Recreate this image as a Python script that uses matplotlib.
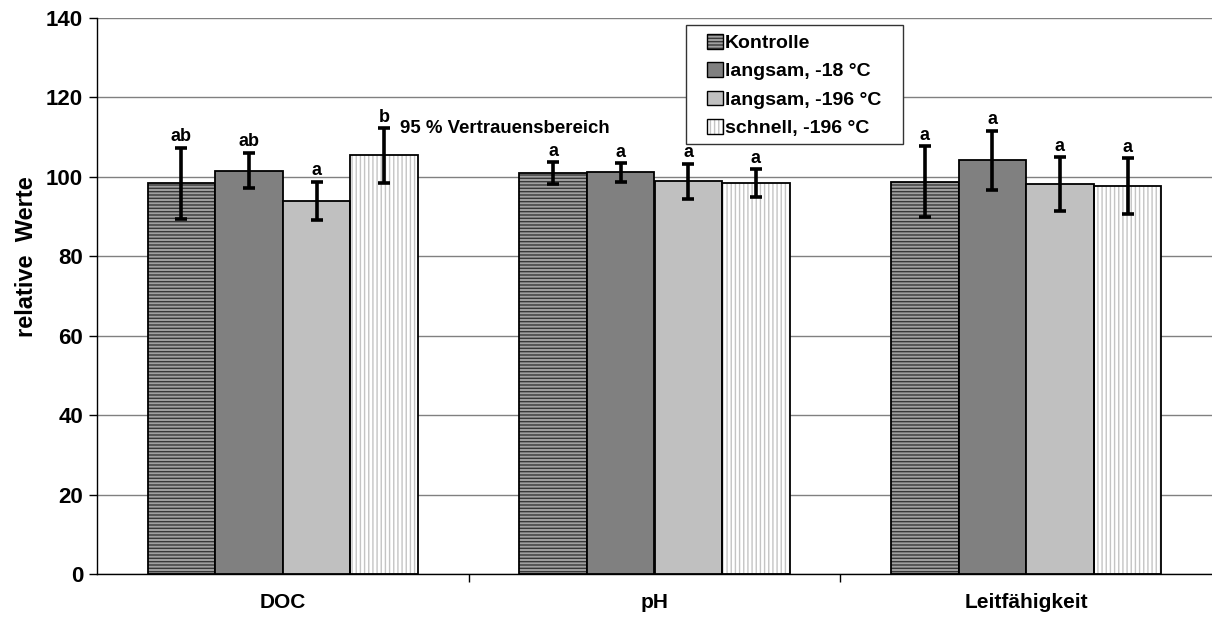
import matplotlib
matplotlib.use("Agg")
import matplotlib.pyplot as plt
from matplotlib.patches import Patch, Rectangle
from matplotlib.legend_handler import HandlerTuple
import numpy as np

plt.rcParams['font.family'] = ['Liberation Sans', 'DejaVu Sans']
plt.rcParams['font.weight'] = 'bold'
plt.rcParams['hatch.linewidth'] = 1.0

categories = ["DOC", "pH", "Leitfähigkeit"]
series = ["Kontrolle", "langsam, -18 °C", "langsam, -196 °C", "schnell, -196 °C"]

kontrolle = [98.4, 100.9, 98.8]
langsam_18 = [101.6, 101.1, 104.2]
langsam_196 = [94.0, 98.9, 98.1]
schnell_196 = [105.4, 98.4, 97.7]

ci_kontrolle = [8.9, 2.8, 8.9]
ci_langsam_18 = [4.5, 2.4, 7.4]
ci_langsam_196 = [4.8, 4.4, 6.8]
ci_schnell_196 = [6.9, 3.5, 7.0]

letters_kontrolle = ["ab", "a", "a"]
letters_langsam_18 = ["ab", "a", "a"]
letters_langsam_196 = ["a", "a", "a"]
letters_schnell_196 = ["b", "a", "a"]

ci_label = "95 % Vertrauensbereich"
y_ticks = [0, 20, 40, 60, 80, 100, 120, 140]

values = [kontrolle, langsam_18, langsam_196, schnell_196]
errors = [ci_kontrolle, ci_langsam_18, ci_langsam_196, ci_schnell_196]
letters = [letters_kontrolle, letters_langsam_18, letters_langsam_196, letters_schnell_196]

# fill colour, hatch pattern, hatch colour per series
styles = [
    ("#a0a0a0", "-----", "#383838"),
    ("#808080", None, None),
    ("#c0c0c0", None, None),
    ("#ffffff", "||||", "#c4c4c4"),
]

W, H = 1212, 619
fig = plt.figure(figsize=(W / 100, H / 100), dpi=100)
ax = fig.add_axes([97 / W, 45 / H, 1 - 97 / W, 556 / H])

x = np.arange(len(categories))
width = 0.182

handles = []
for i, (vals, errs, labs, (fc, hatch, hc)) in enumerate(zip(values, errors, letters, styles)):
    pos = x + (i - 1.5) * width
    if hatch:
        ax.bar(pos, vals, width, color=fc, hatch=hatch, edgecolor=hc, linewidth=0, zorder=2)
        ax.bar(pos, vals, width, fill=False, edgecolor="black", linewidth=1.3, zorder=3)
        h = (Patch(facecolor=fc, hatch=hatch, edgecolor=hc, linewidth=0),
             Patch(fill=False, edgecolor="black", linewidth=1.0))
    else:
        ax.bar(pos, vals, width, color=fc, edgecolor="black", linewidth=1.3, zorder=3)
        h = (Patch(facecolor=fc, edgecolor="black", linewidth=1.0),)
    handles.append(h)
    ax.errorbar(pos, vals, yerr=errs, fmt="none", ecolor="black", elinewidth=2.6,
                capsize=4.5, capthick=2.6, zorder=4)
    for p, v, e, t in zip(pos, vals, errs, labs):
        ax.text(p, v + e + 0.6, t, ha="center", va="bottom", fontsize=13,
                fontweight="bold", zorder=5)

ax.text(0.315, 112.3, ci_label, ha="left", va="center", fontsize=13.4, fontweight="bold")

ax.set_xlim(-0.5, 2.5)
ax.set_ylim(0, 140)
ax.set_yticks(y_ticks)
ax.set_yticklabels([str(t) for t in y_ticks], fontsize=16, fontweight="bold")
ax.set_xticks(x)
ax.set_xticklabels(categories, fontsize=15, fontweight="bold")
ax.set_xticks([0.5, 1.5], minor=True)
ax.tick_params(axis="x", which="major", length=0, pad=14)
ax.tick_params(axis="x", which="minor", length=6, width=1, direction="out", color="black")
ax.tick_params(axis="y", which="major", length=6, width=1, direction="out", pad=4)

ax.yaxis.grid(True, color="#808080", linewidth=1.0, zorder=0)
ax.set_axisbelow(True)
for s in ("top", "right"):
    ax.spines[s].set_visible(False)
for s in ("left", "bottom"):
    ax.spines[s].set_color("black")
    ax.spines[s].set_linewidth(1.0)

ax.set_ylabel("relative  Werte", fontsize=17, fontweight="bold")
ax.yaxis.set_label_coords(-0.053, 0.57)

# legend box drawn as a plain rectangle, entries placed inside it
fig.patches.append(Rectangle((686 / W, 1 - 144 / H), (903 - 686) / W, (144 - 25) / H,
                             transform=fig.transFigure, facecolor="white",
                             edgecolor="#333333", linewidth=1.0, zorder=5))
leg = fig.legend(handles, series, loc="upper left",
                 bbox_to_anchor=(707 / W, 1 - 34 / H), borderaxespad=0, borderpad=0,
                 frameon=False,
                 prop={"size": 14, "weight": "bold"},
                 handler_map={tuple: HandlerTuple(ndivide=1, pad=0)},
                 handlelength=0.8, handleheight=0.8, handletextpad=0.12,
                 labelspacing=0.52)
leg.set_zorder(6)

fig.savefig("out.png", dpi=100)
